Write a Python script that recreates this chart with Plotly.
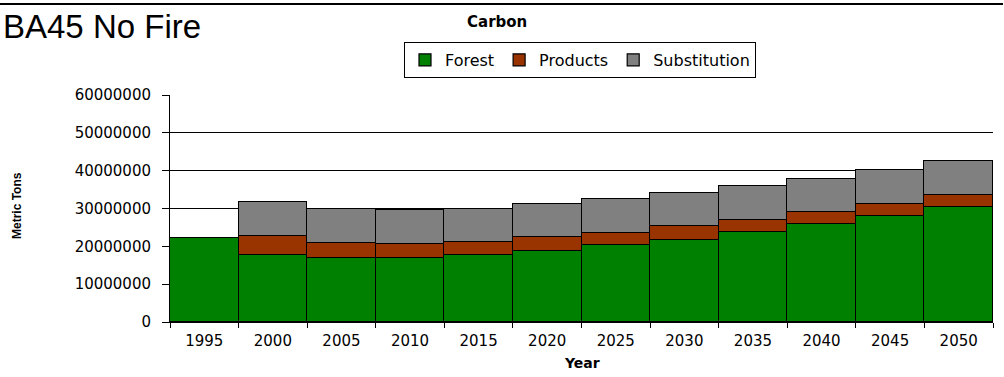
import plotly.graph_objects as go

years = ["1995", "2000", "2005", "2010", "2015", "2020",
         "2025", "2030", "2035", "2040", "2045", "2050"]
forest = [22100000, 17700000, 16900000, 16900000, 17700000, 18900000,
          20400000, 21800000, 23800000, 25900000, 28000000, 30400000]
products = [0, 5000000, 4000000, 3700000, 3500000, 3500000,
            3100000, 3600000, 3100000, 3200000, 3200000, 3100000]
substitution = [0, 9100000, 9100000, 8900000, 8800000, 8900000,
                9100000, 8700000, 9000000, 8800000, 9100000, 9100000]
y_ticks = [0, 10000000, 20000000, 30000000, 40000000, 50000000, 60000000]

W, H = 1004, 377
ML, MR, MT, MB = 170, 11, 95, 55
PW, PH = W - ML - MR, H - MT - MB


def px_x(x):
    return (x - ML) / PW


def px_y(y):
    return (H - MB - y) / PH


wide = "DejaVu Sans, Verdana, sans-serif"
arial = "Liberation Sans, Arial, sans-serif"

fig = go.Figure()
for name, vals, col in [("Forest", forest, "#008000"),
                        ("Products", products, "#993300"),
                        ("Substitution", substitution, "#808080")]:
    fig.add_trace(go.Bar(
        x=years, y=vals, name=name,
        marker=dict(color=col, line=dict(color="#000000", width=1.2)),
    ))

fig.update_layout(
    width=W, height=H,
    margin=dict(l=ML, r=MR, t=MT, b=MB),
    barmode="stack", bargap=0,
    plot_bgcolor="white", paper_bgcolor="white",
    font=dict(family=wide, size=15, color="#000000"),
    showlegend=True,
    legend=dict(
        orientation="h", traceorder="normal",
        x=px_x(580), y=px_y(42), xanchor="center", yanchor="top",
        bordercolor="#000000", borderwidth=1, bgcolor="white",
        font=dict(family=wide, size=16),
        itemwidth=30, tracegroupgap=0,
    ),
    xaxis=dict(
        type="category", tickson="boundaries",
        showline=True, linecolor="#000000", linewidth=1,
        ticks="outside", ticklen=5, tickcolor="#000000",
        showgrid=False, tickfont=dict(family=wide, size=15),
        ticklabelstandoff=5,
    ),
    yaxis=dict(
        range=[0, 60000000], tickvals=y_ticks,
        ticktext=[str(v) for v in y_ticks],
        showline=True, linecolor="#000000", linewidth=1,
        ticks="outside", ticklen=7, tickcolor="#000000",
        showgrid=True, gridcolor="#000000", gridwidth=1,
        zeroline=False, tickfont=dict(family=wide, size=15),
        ticklabelstandoff=8,
    ),
)

fig.add_shape(type="line", xref="paper", yref="paper",
              x0=px_x(0), x1=px_x(1003), y0=px_y(4), y1=px_y(4),
              line=dict(color="#000000", width=2))

fig.add_annotation(text="BA45 No Fire", xref="paper", yref="paper",
                   x=px_x(1), y=px_y(26), xanchor="left", yanchor="middle",
                   showarrow=False, font=dict(family=arial, size=33))
fig.add_annotation(text="<b>Carbon</b>", xref="paper", yref="paper",
                   x=px_x(497), y=px_y(22), xanchor="center", yanchor="middle",
                   showarrow=False, font=dict(family=wide, size=15))
fig.add_annotation(text="<b>Year</b>", xref="paper", yref="paper",
                   x=0.5, y=px_y(363), xanchor="center", yanchor="middle",
                   showarrow=False, font=dict(family=wide, size=14))
fig.add_annotation(text="<b>Metric Tons</b>", xref="paper", yref="paper",
                   x=px_x(17), y=px_y(206), xanchor="center", yanchor="middle",
                   textangle=-90, showarrow=False,
                   font=dict(family=arial, size=12))

fig.write_html("out.html")
